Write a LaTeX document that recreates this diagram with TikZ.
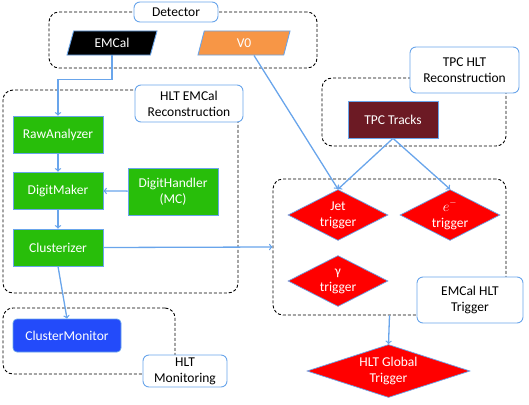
\documentclass[tikz,border=0pt]{standalone}
\usepackage{fontspec}
\setmainfont{Carlito}
\usetikzlibrary{shapes.geometric}
\definecolor{linkblue}{RGB}{105,165,235}
\definecolor{boxgreen}{RGB}{40,190,10}
\definecolor{monblue}{RGB}{35,75,250}
\definecolor{vorange}{RGB}{247,150,70}
\definecolor{tpcred}{RGB}{108,26,36}

\begin{document}
\begin{tikzpicture}[x=1pt,y=-1pt,
		font=\fontsize{13.5}{16}\selectfont,
		group/.style={draw=black, densely dashed, line width=0.9pt, rounded corners=10pt},
		tag/.style={draw=linkblue, fill=white, line width=0.9pt, rounded corners=6pt, align=center, inner sep=1pt},
		block/.style={draw=linkblue, text=white, line width=0.7pt, align=center, minimum width=90pt, minimum height=37pt, inner sep=1pt},
		source/.style={trapezium, trapezium left angle=60, trapezium right angle=120, trapezium stretches body, draw=linkblue, line width=0.9pt, text=white, minimum width=90pt, minimum height=24pt, inner sep=1pt},
		trig/.style={diamond, aspect=2, fill=red, draw=linkblue, line width=0.7pt, text=white, align=center, inner sep=0pt, minimum width=100pt, minimum height=51pt},
		link/.style={draw=linkblue, line width=1.3pt, ->}]
	\useasboundingbox (0,0) rectangle (529,404);
	
	% dashed groups
	\node[group, minimum width=268pt, minimum height=56pt] (detbox) at (183,40) {};
	\node[group, minimum width=235pt, minimum height=203pt] (recobox) at (120.5,191.5) {};
	\node[group, minimum width=172pt, minimum height=66pt] (monbox) at (89,341) {};
	\node[group, minimum width=184pt, minimum height=68pt] (tpcbox) at (414,112) {};
	\node[group, minimum width=233pt, minimum height=136pt] (trigbox) at (389.5,247) {};
	
	% group labels
	\node[tag, minimum width=84pt, minimum height=20pt] (detlabel) at (176,12) {Detector};
	\node[tag, minimum width=108pt, minimum height=37pt] (recolabel) at (189,103.5) {HLT EMCal\\Reconstruction};
	\node[tag, minimum width=109pt, minimum height=46pt] (tpclabel) at (464.5,70) {TPC HLT\\Reconstruction};
	\node[tag, minimum width=106pt, minimum height=46pt] (triglabel) at (470,300) {EMCal HLT\\Trigger};
	\node[tag, minimum width=84pt, minimum height=32pt] (monlabel) at (185,371) {HLT\\Monitoring};
	
	% detector
	\node[source, fill=black] (emcal) at (112,43) {EMCal};
	\node[source, fill=vorange, minimum width=92pt] (vzero) at (244,43) {V0};
	
	% emcal reconstruction
	\node[block, fill=boxgreen] (rawana) at (58,134.5) {RawAnalyzer};
	\node[block, fill=boxgreen] (digmaker) at (58,190.5) {DigitMaker};
	\node[block, fill=boxgreen] (clusterizer) at (58,247.5) {Clusterizer};
	\node[block, fill=boxgreen, minimum height=47pt] (digihandler) at (173,191.5) {DigitHandler\\(MC)};
	\node[block, fill=monblue, minimum width=108pt, minimum height=33pt, rounded corners=4pt] (clusmon) at (67,335.5) {ClusterMonitor};
	\node[block, fill=tpcred] (tpctracks) at (393,119.5) {TPC Tracks};
	
	% triggers
	\node[trig] (jettrig) at (338,215) {Jet\\trigger};
	\node[trig] (eltrig) at (450,215) {$e^{-}$\\trigger};
	\node[trig] (gamtrig) at (338,281) {γ\\trigger};
	\node[trig, aspect=3, minimum width=163pt, minimum height=53pt] (globtrig) at (388.5,371) {HLT Global\\Trigger};
	
	\draw[link] (emcal.south) -- ++(0,24) -| (rawana.north);
	\draw[link] (rawana) -- (digmaker);
	\draw[link] (digmaker) -- (clusterizer);
	\draw[link] (digihandler) -- (digmaker);
	\draw[link] (clusterizer.east) -- (trigbox.west);
	\draw[link] (clusterizer.south) -- (clusmon.north);
	\draw[link] ([xshift=10pt]vzero.south) -- (jettrig.north);
	\draw[link] (tpctracks.south) -- (jettrig.north);
	\draw[link] (tpctracks.south) -- (eltrig.north);
	\draw[link] (trigbox.south) -- (globtrig.north);
\end{tikzpicture}
\end{document}
